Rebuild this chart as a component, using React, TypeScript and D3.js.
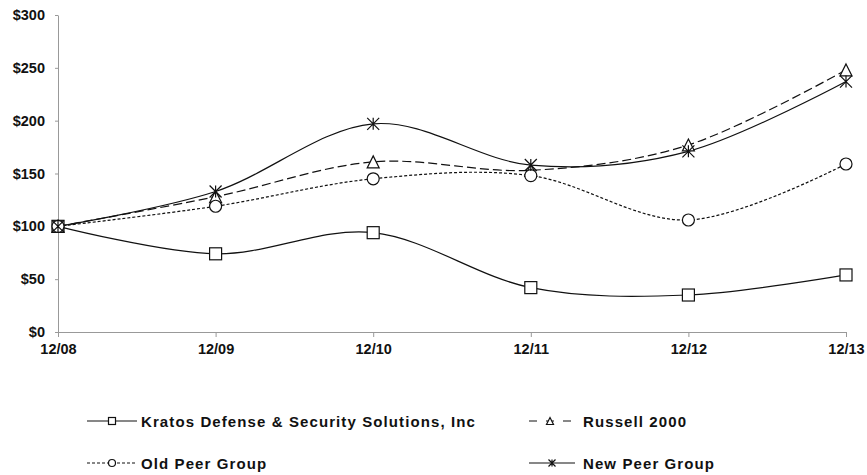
import React, { useEffect, useRef } from 'react';
import * as d3 from 'd3';

const years = ['12/08', '12/09', '12/10', '12/11', '12/12', '12/13'];
const yTicks = [0, 50, 100, 150, 200, 250, 300];

const kratos = [100, 74, 94, 42, 35, 54];
const russell = [100, 128, 161, 153, 177, 248];
const oldPeer = [100, 119, 145, 148, 106, 159];
const newPeer = [100, 133, 197, 158, 171, 237];

type Marker = 'square' | 'triangle' | 'circle' | 'star';

const series: { name: string; values: number[]; dash: string | null; marker: Marker }[] = [
  { name: 'Kratos Defense & Security Solutions, Inc', values: kratos, dash: null, marker: 'square' },
  { name: 'Russell 2000', values: russell, dash: '9,4', marker: 'triangle' },
  { name: 'Old Peer Group', values: oldPeer, dash: '3,2', marker: 'circle' },
  { name: 'New Peer Group', values: newPeer, dash: null, marker: 'star' },
];

// legend slots: start of sample line, its length, text start, row centre
const legendPos = [
  { x: 87, len: 50, tx: 141, y: 421 },
  { x: 529, len: 42, tx: 583, y: 421 },
  { x: 87, len: 50, tx: 141, y: 463 },
  { x: 529, len: 46, tx: 583, y: 463 },
];

const W = 867;
const H = 475;
const FONT = 'Liberation Sans, Arial, sans-serif';

function drawMarker(g: d3.Selection<SVGGElement, unknown, null, undefined>, type: Marker, x: number, y: number, s: number) {
  const h = s / 2;
  if (type === 'square') {
    g.append('rect').attr('x', x - h).attr('y', y - h).attr('width', s).attr('height', s)
      .attr('fill', 'white').attr('stroke', '#111').attr('stroke-width', 1.2);
  } else if (type === 'circle') {
    g.append('circle').attr('cx', x).attr('cy', y).attr('r', h)
      .attr('fill', 'white').attr('stroke', '#111').attr('stroke-width', 1.2);
  } else if (type === 'triangle') {
    g.append('path').attr('d', `M${x},${y - h}L${x + h},${y + h}L${x - h},${y + h}Z`)
      .attr('fill', 'white').attr('stroke', '#111').attr('stroke-width', 1.2);
  } else {
    g.append('path')
      .attr('d', `M${x},${y - h}L${x},${y + h}M${x - h},${y - h}L${x + h},${y + h}M${x + h},${y - h}L${x - h},${y + h}`)
      .attr('fill', 'none').attr('stroke', '#111').attr('stroke-width', 1.2);
  }
}

const App: React.FC = () => {
  const svgRef = useRef<SVGSVGElement>(null);

  useEffect(() => {
    if (!svgRef.current) return;
    const svg = d3.select(svgRef.current);
    svg.selectAll('*').remove();

    const x = d3.scalePoint<string>().domain(years).range([58, 846]);
    const y = d3.scaleLinear().domain([0, 300]).range([332, 15]);

    // y axis
    const axisY = svg.append('g').attr('transform', 'translate(58,0)')
      .call(d3.axisLeft(y).tickValues(yTicks).tickSize(3).tickSizeOuter(0).tickFormat(d => `$${d}`));
    axisY.select('.domain').attr('stroke', '#999');
    axisY.selectAll('.tick line').attr('stroke', '#999');
    axisY.selectAll('.tick text')
      .attr('font-family', FONT)
      .attr('font-weight', 'bold').attr('font-size', 14.5).attr('fill', '#111').attr('x', -13);

    // x axis
    const axisX = svg.append('g').attr('transform', 'translate(0,332)')
      .call(d3.axisBottom(x).tickSize(5).tickSizeOuter(0));
    axisX.select('.domain').attr('stroke', '#999');
    axisX.selectAll('.tick line').attr('stroke', '#999');
    axisX.selectAll('.tick text')
      .attr('font-family', FONT)
      .attr('font-weight', 'bold').attr('font-size', 14.5).attr('fill', '#111').attr('y', 12);

    const line = d3.line<number>()
      .x((_, i) => x(years[i]) as number)
      .y(d => y(d))
      .curve(d3.curveCardinal.tension(0));

    series.forEach(s => {
      svg.append('path').datum(s.values)
        .attr('fill', 'none').attr('stroke', '#111').attr('stroke-width', 1.2)
        .attr('stroke-dasharray', s.dash)
        .attr('d', line);
    });

    series.forEach(s => {
      const g = svg.append('g');
      s.values.forEach((v, i) => drawMarker(g, s.marker, x(years[i]) as number, y(v), 12));
    });

    // legend
    series.forEach((s, i) => {
      const p = legendPos[i];
      const g = svg.append('g');
      g.append('line').attr('x1', p.x).attr('x2', p.x + p.len).attr('y1', p.y).attr('y2', p.y)
        .attr('stroke', '#111').attr('stroke-width', 1.1).attr('stroke-dasharray', s.dash ? (s.dash === '9,4' ? '8,9' : '3,2') : null);
      drawMarker(g, s.marker, p.x + p.len / 2, p.y, 7);
      g.append('text').attr('x', p.tx).attr('y', p.y + 5.5)
        .attr('font-family', FONT)
        .attr('font-weight', 'bold').attr('font-size', 15).attr('letter-spacing', 1.1)
        .attr('fill', '#111')
        .text(s.name);
    });
  }, []);

  return (
    <svg ref={svgRef} width={W} height={H}
      style={{ position: 'absolute', left: 0, top: 0, background: 'white' }} />
  );
};

export default App;
